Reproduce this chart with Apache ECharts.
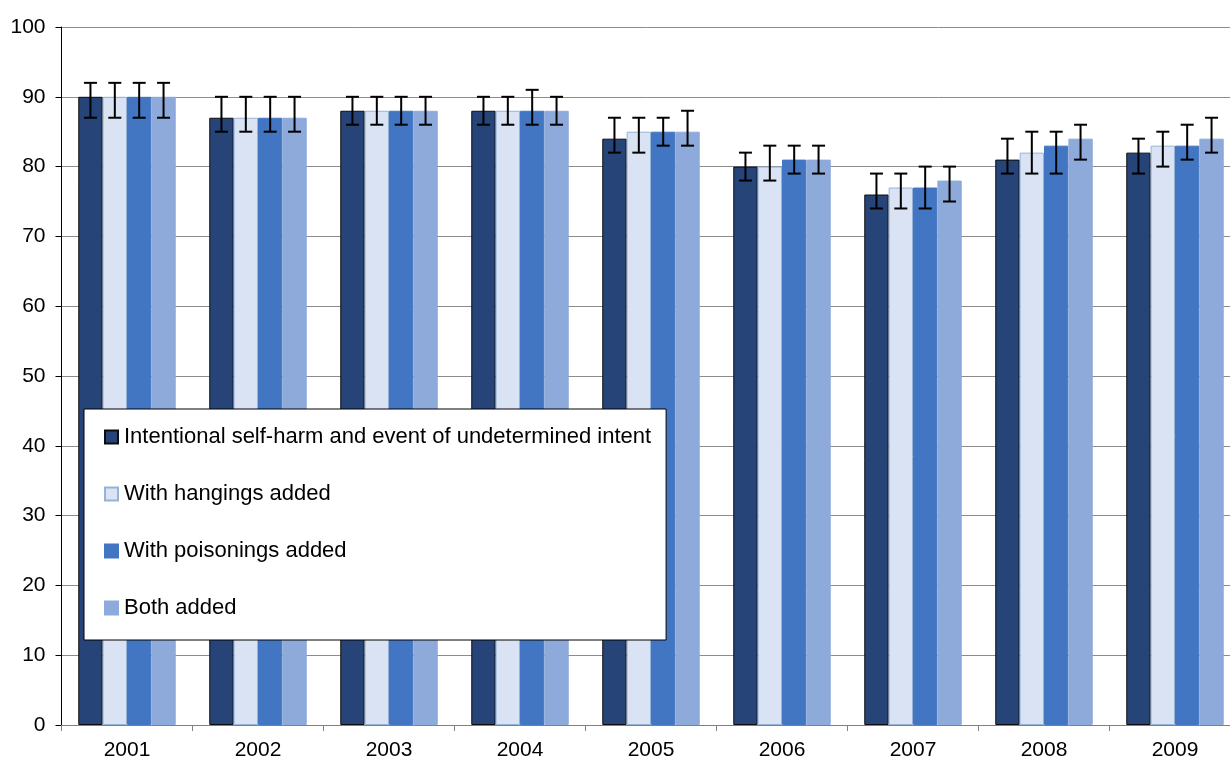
<!DOCTYPE html>
<html>
<head>
<meta charset="utf-8">
<script src="https://cdn.jsdelivr.net/npm/echarts@6/dist/echarts.min.js"></script>
<style>
  html, body { margin: 0; padding: 0; background: #fff; }
  #chart { width: 1230px; height: 767px; }
</style>
</head>
<body>
<div id="chart"></div>
<script>
const years = ['2001', '2002', '2003', '2004', '2005', '2006', '2007', '2008', '2009'];

const seriesNames = [
  'Intentional self-harm and event of undetermined intent',
  'With hangings added',
  'With poisonings added',
  'Both added'
];

// bar heights
const selfHarm = [90, 87, 88, 88, 84, 80, 76, 81, 82];
const hangings = [90, 87, 88, 88, 85, 80, 77, 82, 83];
const poisonings = [90, 87, 88, 88, 85, 81, 77, 83, 83];
const bothAdded = [90, 87, 88, 88, 85, 81, 78, 84, 84];

// confidence intervals (low / high)
const selfHarmLow = [87, 85, 86, 86, 82, 78, 74, 79, 79];
const selfHarmHigh = [92, 90, 90, 90, 87, 82, 79, 84, 84];
const hangingsLow = [87, 85, 86, 86, 82, 78, 74, 79, 80];
const hangingsHigh = [92, 90, 90, 90, 87, 83, 79, 85, 85];
const poisoningsLow = [87, 85, 86, 86, 83, 79, 74, 79, 81];
const poisoningsHigh = [92, 90, 90, 91, 87, 83, 80, 85, 86];
const bothLow = [87, 85, 86, 86, 83, 79, 75, 81, 82];
const bothHigh = [92, 90, 90, 90, 88, 83, 80, 86, 87];

const values = [selfHarm, hangings, poisonings, bothAdded];
const lows = [selfHarmLow, hangingsLow, poisoningsLow, bothLow];
const highs = [selfHarmHigh, hangingsHigh, poisoningsHigh, bothHigh];

const fills = ['#264478', '#dae3f3', '#4275c2', '#8eaadb'];
const borders = ['#0d0d0d', '#95b3d7', '#4275c2', '#8eaadb'];

const catGap = 0.256;
const nBars = 4;

function errorRender(idx) {
  return function (params, api) {
    const cat = api.value(0);
    const band = api.size([1, 0])[0];
    const barW = band * (1 - catGap) / nBars;
    const cx = api.coord([cat, 0])[0] - (nBars / 2) * barW + (idx + 0.5) * barW;
    const yLow = api.coord([cat, api.value(1)])[1];
    const yHigh = api.coord([cat, api.value(2)])[1];
    const half = 6.5;
    const style = { stroke: '#000', lineWidth: 2 };
    return {
      type: 'group',
      children: [
        { type: 'line', shape: { x1: cx, y1: yLow, x2: cx, y2: yHigh }, style: style },
        { type: 'line', shape: { x1: cx - half, y1: yHigh, x2: cx + half, y2: yHigh }, style: style },
        { type: 'line', shape: { x1: cx - half, y1: yLow, x2: cx + half, y2: yLow }, style: style }
      ]
    };
  };
}

let series = [];
for (var i = 0; i < nBars; i++) {
  series.push({
    name: seriesNames[i],
    type: 'bar',
    data: values[i],
    barGap: '0%',
    barCategoryGap: (catGap * 100) + '%',
    itemStyle: { color: fills[i], borderColor: borders[i], borderWidth: 1 },
    silent: true
  });
}
for (var i = 0; i < nBars; i++) {
  let errData = [];
  for (var j = 0; j < years.length; j++) {
    errData.push([j, lows[i][j], highs[i][j]]);
  }
  series.push({
    type: 'custom',
    renderItem: errorRender(i),
    data: errData,
    z: 5,
    silent: true
  });
}

const chart = echarts.init(document.getElementById('chart'));
chart.setOption({
  animation: false,
  textStyle: { fontFamily: 'Liberation Sans, Arial, sans-serif' },
  // plot area runs a little past the right edge of the picture
  grid: {
    left: 61.5,
    right: -10.5,
    top: 27,
    bottom: 42,
    containLabel: false,
    outerBoundsMode: 'none'
  },
  legend: {
    data: seriesNames,
    orient: 'vertical',
    left: 84,
    top: 409,
    icon: 'rect',
    itemWidth: 13,
    itemHeight: 13,
    itemGap: 35,
    padding: [17, 15, 21, 20],
    backgroundColor: '#fff',
    borderColor: '#000',
    borderWidth: 1,
    borderRadius: 0,
    z: 10,
    textStyle: { fontSize: 22, color: '#000', padding: [0, 0, 0, 1] }
  },
  xAxis: {
    type: 'category',
    data: years,
    axisLine: { lineStyle: { color: '#808080', width: 1 } },
    axisTick: { show: true, alignWithLabel: false, length: 6, lineStyle: { color: '#808080' } },
    axisLabel: { fontSize: 21, color: '#000', margin: 15 }
  },
  yAxis: {
    type: 'value',
    min: 0,
    max: 100,
    interval: 10,
    axisLine: { show: true, lineStyle: { color: '#000', width: 1 } },
    axisTick: { show: true, length: 6, lineStyle: { color: '#000' } },
    axisLabel: { fontSize: 21, color: '#000', margin: 16 },
    splitLine: { lineStyle: { color: '#8c8c8c', width: 1 } }
  },
  series: series
});
</script>
</body>
</html>
